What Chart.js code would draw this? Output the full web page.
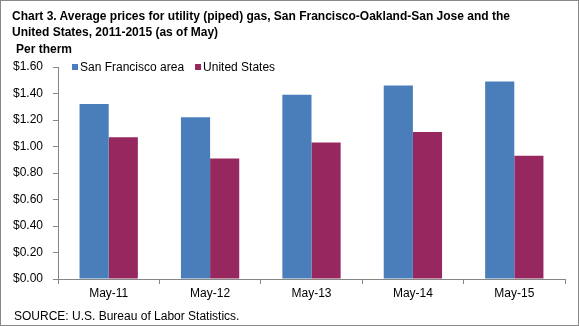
<!DOCTYPE html>
<html>
<head>
<meta charset="utf-8">
<script src="https://cdn.jsdelivr.net/npm/chart.js@4/dist/chart.umd.min.js"></script>
<style>
  body { margin: 0; background: #fff; }
  #frame {
    position: relative; width: 577px; height: 324px;
    border: 1px solid #888; font-family: "Liberation Sans", Arial, sans-serif; color: #000;
  }
  #title { position: absolute; left: 11px; top: 7px; font-size: 12px; font-weight: bold; line-height: 16px; width: 560px; }
  #unit { position: absolute; left: 15px; top: 41px; font-size: 12px; font-weight: bold; }
  #source { position: absolute; left: 13px; top: 308px; font-size: 12px; }
  #chart-box { position: absolute; left: -1px; top: -1px; width: 579px; height: 326px; }
</style>
</head>
<body>
<div id="frame">
  <div id="chart-box"><canvas id="myChart" width="579" height="326"></canvas></div>
  <div id="title">Chart 3. Average prices for utility (piped) gas, San Francisco-Oakland-San Jose and the<br>United States, 2011-2015 (as of May)</div>
  <div id="unit">Per therm</div>
  <div id="source">SOURCE: U.S. Bureau of Labor Statistics.</div>
</div>
<script>
  const categories = ['May-11', 'May-12', 'May-13', 'May-14', 'May-15'];
  const sanFrancisco = [1.32, 1.22, 1.39, 1.46, 1.49];
  const unitedStates = [1.07, 0.91, 1.03, 1.11, 0.93];
  const seriesNames = ['San Francisco area', 'United States'];

  Chart.defaults.font.family = '"Liberation Sans", Arial, sans-serif';
  Chart.defaults.font.size = 12;
  Chart.defaults.color = '#000';

  // legend drawn inside the plot, on the same line as the top tick
  const inlineLegend = {
    id: 'inlineLegend',
    afterDraw(chart) {
      const ctx = chart.ctx;
      const area = chart.chartArea;
      let x = area.left + 14;
      const y = area.top;
      ctx.save();
      ctx.font = '12px "Liberation Sans", Arial, sans-serif';
      ctx.textBaseline = 'middle';
      chart.data.datasets.forEach((ds) => {
        ctx.fillStyle = ds.backgroundColor;
        ctx.fillRect(x, y - 3, 6, 6);
        ctx.fillStyle = '#000';
        ctx.fillText(ds.label, x + 8, y + 1);
        x += 8 + ctx.measureText(ds.label).width + 11;
      });
      ctx.restore();
    }
  };

  const chartCanvas = document.getElementById('myChart');
  const myChart = new Chart(chartCanvas, {
    type: 'bar',
    data: {
      labels: categories,
      datasets: [{
        label: seriesNames[0],
        data: sanFrancisco,
        backgroundColor: '#4a7ebb'
      }, {
        label: seriesNames[1],
        data: unitedStates,
        backgroundColor: '#96285f'
      }]
    },
    options: {
      responsive: false,
      animation: false,
      layout: { padding: { left: 0, right: 14, top: 67, bottom: 0 } },
      categoryPercentage: 0.575,
      barPercentage: 1,
      plugins: {
        title: { display: false },
        tooltip: { enabled: false },
        legend: { display: false }
      },
      scales: {
        x: {
          grid: { display: true, drawOnChartArea: false, offset: true, tickLength: 5, color: '#868686' },
          border: { color: '#868686' },
          ticks: { padding: 2, color: '#000' },
          afterFit: (scale) => { scale.height = 47; }
        },
        y: {
          min: 0, max: 1.6,
          grid: { display: true, drawOnChartArea: false, tickLength: 5, color: '#868686' },
          border: { color: '#868686' },
          ticks: {
            stepSize: 0.2, padding: 10, color: '#000',
            callback: (v) => '$' + Number(v).toFixed(2)
          },
          afterFit: (scale) => { scale.width = 58; }
        }
      }
    },
    plugins: [inlineLegend]
  });
</script>
</body>
</html>
